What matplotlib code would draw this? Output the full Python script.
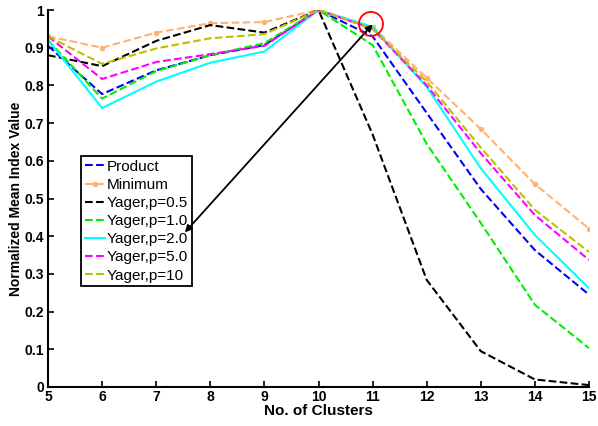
import matplotlib
matplotlib.use("Agg")
import matplotlib.pyplot as plt
from matplotlib.patches import Ellipse

clusters = [5, 6, 7, 8, 9, 10, 11, 12, 13, 14, 15]
product = [0.905, 0.777, 0.840, 0.880, 0.907, 1.0, 0.930, 0.727, 0.525, 0.363, 0.245]
minimum = [0.930, 0.900, 0.940, 0.965, 0.968, 1.0, 0.955, 0.820, 0.684, 0.538, 0.420]
yager05 = [0.880, 0.851, 0.918, 0.960, 0.940, 1.0, 0.670, 0.284, 0.095, 0.020, 0.005]
yager10 = [0.920, 0.765, 0.838, 0.880, 0.912, 1.0, 0.907, 0.645, 0.435, 0.218, 0.103]
yager20 = [0.920, 0.740, 0.810, 0.860, 0.890, 1.0, 0.955, 0.796, 0.580, 0.403, 0.262]
yager50 = [0.930, 0.817, 0.862, 0.883, 0.905, 1.0, 0.950, 0.800, 0.620, 0.456, 0.337]
yager100 = [0.930, 0.857, 0.898, 0.925, 0.936, 1.0, 0.950, 0.810, 0.635, 0.470, 0.358]

labels = ["Product", "Minimum", "Yager,p=0.5", "Yager,p=1.0", "Yager,p=2.0", "Yager,p=5.0", "Yager,p=10"]
yticks = [0, 0.1, 0.2, 0.3, 0.4, 0.5, 0.6, 0.7, 0.8, 0.9, 1]
yticklabels = ["0", "0.1", "0.2", "0.3", "0.4", "0.5", "0.6", "0.7", "0.8", "0.9", "1"]

fig = plt.figure(figsize=(5.98, 4.26), dpi=100)
ax = fig.add_axes([48/598, 1-387/426, (589-48)/598, (387-10)/426])

lw = 1.5
ax.plot(clusters, product, '--', color='#0000ff', lw=lw, label=labels[0])
ax.plot(clusters, minimum, '--', color='#ffb273', lw=lw, marker='.', ms=6, label=labels[1])
ax.plot(clusters, yager05, '--', color='black', lw=lw, label=labels[2])
ax.plot(clusters, yager10, '--', color='#00ee00', lw=lw, label=labels[3])
ax.plot(clusters, yager20, '-', color='#00ffff', lw=lw, label=labels[4])
ax.plot(clusters, yager50, '--', color='#ff00ff', lw=lw, label=labels[5])
ax.plot(clusters, yager100, '--', color='#bfbf00', lw=lw, label=labels[6])

ax.set_xlim(5, 15)
ax.set_ylim(0, 1)
ax.set_xticks(clusters)
ax.set_yticks(yticks)
ax.set_yticklabels(yticklabels)
for s in ['top', 'right']:
    ax.spines[s].set_visible(False)
for s in ['left', 'bottom']:
    ax.spines[s].set_linewidth(1.5)
ax.tick_params(direction='in', length=4, width=1.2, labelsize=10, pad=3)
ax.tick_params(axis='x', pad=2)
for t in ax.get_xticklabels() + ax.get_yticklabels():
    t.set_fontweight('bold')
    t.set_family('Liberation Sans')

ax.set_xlabel("No. of Clusters", fontsize=11, fontweight='bold', family='Liberation Sans', labelpad=0)
ax.set_ylabel("Normalized Mean Index Value", fontsize=10, fontweight='bold', family='Liberation Sans', labelpad=1)

ax.annotate("", xy=(11.0, 0.962), xytext=(7.53, 0.41),
            arrowprops=dict(arrowstyle='<|-|>', color='black', lw=1.3, mutation_scale=10,
                            shrinkA=0, shrinkB=0), zorder=10)
circ = Ellipse((10.97, 0.963), 24/54.1, 24/377, fill=False, edgecolor='red', lw=1.3,
               transform=ax.transData, zorder=10)
ax.add_patch(circ)

leg = ax.legend(loc='upper left', bbox_to_anchor=(81/598, 1-156/426), bbox_transform=fig.transFigure,
                prop={'family': 'Liberation Sans', 'size': 11}, handlelength=1.3, handletextpad=0.15,
                labelspacing=0.27, borderpad=0.25, borderaxespad=0, fancybox=False, framealpha=1)
leg.get_frame().set_edgecolor('black')
leg.get_frame().set_linewidth(1.3)
leg.set_zorder(5)

fig.savefig("out.png", dpi=100)
